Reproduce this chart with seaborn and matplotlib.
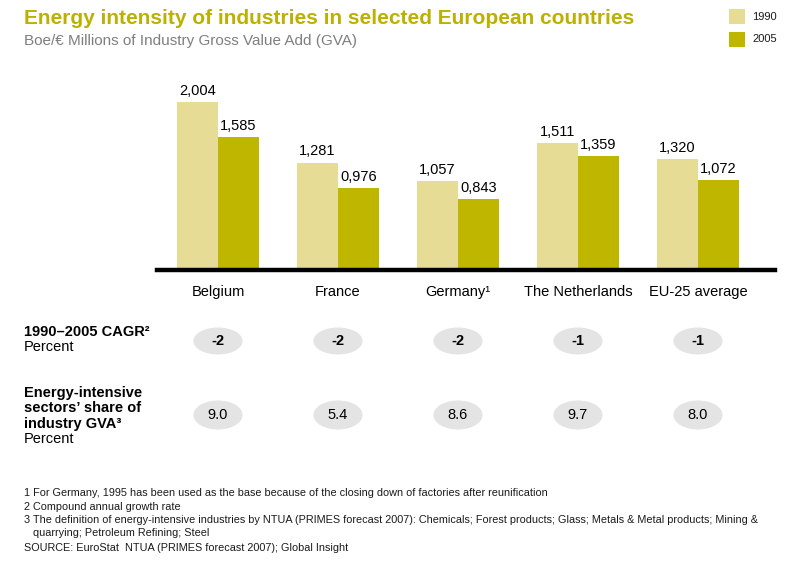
import matplotlib
matplotlib.use("Agg")
import matplotlib.pyplot as plt
import matplotlib.transforms as mtransforms
from matplotlib.patches import Ellipse, Rectangle
import seaborn as sns
import pandas as pd

# ---- data ----
countries = ["Belgium", "France", "Germany\u00b9", "The Netherlands", "EU-25 average"]
intensity_1990 = [2.004, 1.281, 1.057, 1.511, 1.320]
intensity_2005 = [1.585, 0.976, 0.843, 1.359, 1.072]
years = ["1990", "2005"]
cagr = ["-2", "-2", "-2", "-1", "-1"]
share_gva = ["9.0", "5.4", "8.6", "9.7", "8.0"]

title = "Energy intensity of industries in selected European countries"
subtitle = "Boe/\u20ac Millions of Industry Gross Value Add (GVA)"
footnotes = [
    "1 For Germany, 1995 has been used as the base because of the closing down of factories after reunification",
    "2 Compound annual growth rate",
    "3 The definition of energy-intensive industries by NTUA (PRIMES forecast 2007): Chemicals; Forest products; Glass; Metals & Metal products; Mining &",
    "   quarrying; Petroleum Refining; Steel",
    "SOURCE: EuroStat  NTUA (PRIMES forecast 2007); Global Insight",
]

c1990 = "#E6DC96"
c2005 = "#BFB600"
title_col = "#BCB000"

df = pd.DataFrame({
    "country": countries * 2,
    "year": [years[0]] * len(countries) + [years[1]] * len(countries),
    "value": intensity_1990 + intensity_2005,
})

sns.set_theme(style="white")
plt.rcParams["font.family"] = ["Liberation Sans", "DejaVu Sans"]

W, H = 798, 566
fig = plt.figure(figsize=(W / 100, H / 100), dpi=100)

def fx(px):
    return px / W

def fy(py):
    return 1 - py / H

ax_left, ax_right = 157, 775
ax_top, ax_bottom = 80, 270
ax = fig.add_axes([fx(ax_left), fy(ax_bottom), fx(ax_right - ax_left), (ax_bottom - ax_top) / H])

sns.barplot(data=df, x="country", y="value", hue="year", order=countries,
            hue_order=years, palette=[c1990, c2005], width=0.68,
            saturation=1, ax=ax, legend=False, edgecolor="none", linewidth=0)

ax.set_xlim(-0.508, 4.642)
ax.set_ylim(0, 2.267)
ax.set_yticks([])
ax.set_xlabel("")
ax.set_ylabel("")
for s in ["top", "left", "right"]:
    ax.spines[s].set_visible(False)
ax.spines["bottom"].set_color("black")
ax.spines["bottom"].set_linewidth(3.2)
ax.tick_params(axis="x", length=0, pad=11, labelsize=10.5, labelcolor="black")

for cont in ax.containers:
    for bar in cont:
        h = bar.get_height()
        ax.annotate(f"{h:.3f}".replace(".", ","),
                    (bar.get_x() + bar.get_width() / 2, h),
                    xytext=(0, 3), textcoords="offset points",
                    ha="center", va="bottom", fontsize=10.5, color="black")

# title and subtitle
fig.text(fx(24), fy(18), title, fontsize=15, fontweight="bold", color=title_col,
         ha="left", va="center")
fig.text(fx(24), fy(41), subtitle, fontsize=11, color="#7F7F7F", ha="left", va="center")

# legend
for i, (yr, col) in enumerate(zip(years, [c1990, c2005])):
    y0 = 9 + i * 23
    fig.patches.append(Rectangle((fx(729), fy(y0 + 15)), fx(16), 15 / H,
                                 transform=fig.transFigure, facecolor=col,
                                 edgecolor="none"))
    fig.text(fx(752), fy(y0 + 7.5), yr, fontsize=8, color="#1A1A1A", ha="left", va="center")

# rows with ellipses
blend = mtransforms.blended_transform_factory(ax.transData, fig.transFigure)
rows = [(341, cagr, 27, "bold"), (415, share_gva, 29, "normal")]
for yc, vals, hgt, wt in rows:
    for i, v in enumerate(vals):
        e = Ellipse((i, fy(yc)), 0.41, hgt / H, transform=blend,
                    facecolor="#E4E4E4", edgecolor="none", clip_on=False)
        fig.patches.append(e)
        fig.text(i, fy(yc), v, transform=blend, ha="center", va="center",
                 fontsize=10.5, fontweight=wt, color="black")

fig.text(fx(24), fy(332), "1990\u20132005 CAGR\u00b2", fontsize=10.5, fontweight="bold",
         ha="left", va="center", color="black")
fig.text(fx(24), fy(347), "Percent", fontsize=10.5, ha="left", va="center", color="black")
for j, line in enumerate(["Energy-intensive", "sectors\u2019 share of", "industry GVA\u00b3"]):
    fig.text(fx(24), fy(393 + j * 15.3), line, fontsize=10.5, fontweight="bold",
             ha="left", va="center", color="black")
fig.text(fx(24), fy(439), "Percent", fontsize=10.5, ha="left", va="center", color="black")

# footnotes
fy_pos = [493, 507, 520, 533, 548]
for yp, line in zip(fy_pos, footnotes):
    fig.text(fx(24), fy(yp), line, fontsize=7.8, ha="left", va="center", color="#1A1A1A")

fig.savefig("out.png", dpi=100)
